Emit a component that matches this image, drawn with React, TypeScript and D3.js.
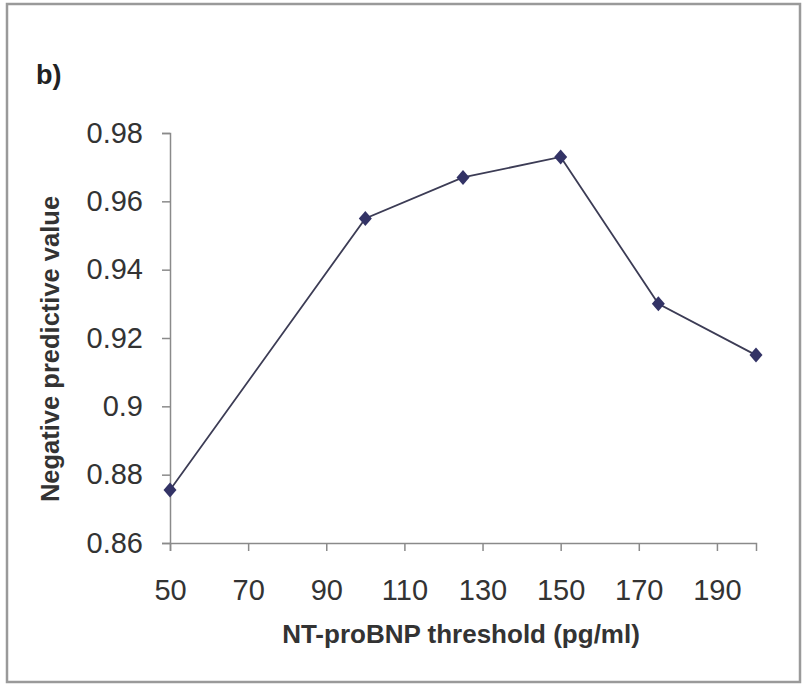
import React, { useEffect, useRef } from 'react';
import * as d3 from 'd3';

const thresholds = [50, 100, 125, 150, 175, 200];
const npv = [0.8755, 0.955, 0.967, 0.973, 0.930, 0.915];
const xTicks = [50, 70, 90, 110, 130, 150, 170, 190];
const yTicks = [0.86, 0.88, 0.9, 0.92, 0.94, 0.96, 0.98];

const W = 803;
const H = 685;
const FONT = 'Liberation Sans, Arial, sans-serif';

const Chart: React.FC = () => {
  const svgRef = useRef<SVGSVGElement>(null);

  useEffect(() => {
    if (!svgRef.current) return;
    const svg = d3.select(svgRef.current);
    svg.selectAll('*').remove();

    const x = d3.scaleLinear().domain([50, 200]).range([170, 756]);
    const y = d3.scaleLinear().domain([0.86, 0.98]).range([543, 133]);

    // outer frame
    svg.append('rect')
      .attr('x', 7).attr('y', 4)
      .attr('width', 793).attr('height', 678)
      .attr('fill', 'none')
      .attr('stroke', '#9a9a9a')
      .attr('stroke-width', 2.5);

    svg.append('text')
      .attr('x', 36).attr('y', 84)
      .attr('font-family', FONT)
      .attr('font-weight', 'bold')
      .attr('font-size', 27)
      .attr('fill', '#222')
      .text('b)');

    const axisColor = '#8a8a8a';

    // y axis
    const yAxis = svg.append('g')
      .attr('transform', `translate(${x(50)},0)`)
      .call(d3.axisLeft(y).tickValues(yTicks).tickSize(8).tickPadding(19)
        .tickFormat(d => d3.format('')(+d)));
    yAxis.select('.domain').attr('stroke', axisColor).attr('stroke-width', 1.5);
    yAxis.selectAll('.tick line').attr('stroke', axisColor).attr('stroke-width', 1.5);
    yAxis.selectAll('.tick text')
      .attr('font-family', FONT)
      .attr('font-size', 29)
      .attr('fill', '#333');

    // x axis
    const xAxis = svg.append('g')
      .attr('transform', `translate(0,${y(0.86)})`)
      .call(d3.axisBottom(x).tickValues(xTicks).tickSize(8).tickPadding(28)
        .tickFormat(d3.format('d')));
    xAxis.select('.domain').attr('stroke', axisColor).attr('stroke-width', 1.5);
    xAxis.selectAll('.tick line').attr('stroke', axisColor).attr('stroke-width', 1.5);
    xAxis.selectAll('.tick text')
      .attr('font-family', FONT)
      .attr('font-size', 29)
      .attr('fill', '#333');

    // axis titles
    svg.append('text')
      .attr('x', 461).attr('y', 643)
      .attr('text-anchor', 'middle')
      .attr('font-family', FONT)
      .attr('font-weight', 'bold')
      .attr('font-size', 26)
      .attr('fill', '#333')
      .text('NT-proBNP threshold (pg/ml)');

    svg.append('text')
      .attr('transform', `translate(59,349) rotate(-90)`)
      .attr('text-anchor', 'middle')
      .attr('font-family', FONT)
      .attr('font-weight', 'bold')
      .attr('font-size', 25.5)
      .attr('fill', '#333')
      .text('Negative predictive value');

    const pts = thresholds.map((t, i) => [t, npv[i]] as [number, number]);

    const line = d3.line<[number, number]>()
      .x(d => x(d[0]))
      .y(d => y(d[1]));

    svg.append('path')
      .datum(pts)
      .attr('d', line)
      .attr('fill', 'none')
      .attr('stroke', '#3c3c55')
      .attr('stroke-width', 1.8);

    svg.selectAll('.pt')
      .data(pts)
      .enter()
      .append('path')
      .attr('class', 'pt')
      .attr('d', d => {
        const cx = x(d[0]);
        const cy = y(d[1]);
        return `M${cx},${cy - 7.5}L${cx + 6.5},${cy}L${cx},${cy + 7.5}L${cx - 6.5},${cy}Z`;
      })
      .attr('fill', '#333366');
  }, []);

  return <svg ref={svgRef} width={W} height={H} style={{ display: 'block' }} />;
};

export default function App() {
  return (
    <div style={{ position: 'absolute', left: 0, top: 0 }}>
      <Chart />
    </div>
  );
}
